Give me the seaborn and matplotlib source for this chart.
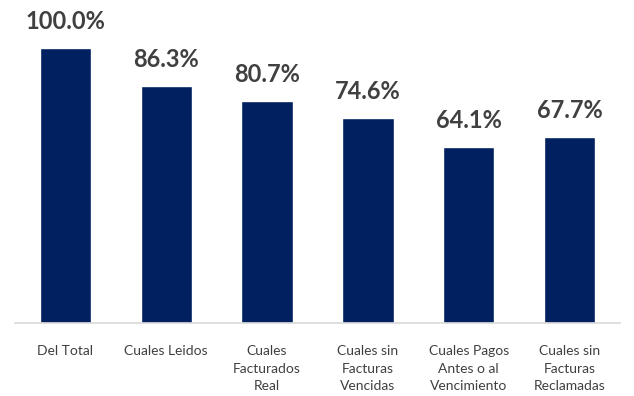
import matplotlib
matplotlib.use("Agg")
import matplotlib.pyplot as plt
import seaborn as sns
import pandas as pd

categories = ["Del Total", "Cuales Leidos", "Cuales\nFacturados\nReal",
              "Cuales sin\nFacturas\nVencidas", "Cuales Pagos\nAntes o al\nVencimiento",
              "Cuales sin\nFacturas\nReclamadas"]
values = [100.0, 86.3, 80.7, 74.6, 64.1, 67.7]

df = pd.DataFrame({"cat": categories, "pct": values})

sns.set_style("white")
plt.rcParams["font.family"] = ["Lato", "DejaVu Sans"]

fig = plt.figure(figsize=(6.34, 3.96), dpi=100)
ax = fig.add_axes([15 / 634, 73 / 396, 605 / 634, 323 / 396])

sns.barplot(data=df, x="cat", y="pct", color="#002060", saturation=1,
            width=0.51, ax=ax)

for i, v in enumerate(values):
    ax.text(i, v + 5.5, f"{v:.1f}%", ha="center", va="bottom",
            fontsize=17, fontweight="bold", color="#404040")

ax.set_ylim(0, 117.5)
ax.set_xlim(-0.5, len(values) - 0.5)
ax.set_xlabel("")
ax.set_ylabel("")
ax.set_yticks([])
ax.tick_params(axis="x", length=0, pad=16, labelsize=10, labelcolor="#404040")
for lbl in ax.get_xticklabels():
    lbl.set_linespacing(1.55)
    lbl.set_verticalalignment("top")
for s in ["top", "left", "right"]:
    ax.spines[s].set_visible(False)
ax.spines["bottom"].set_color("#D9D9D9")
ax.spines["bottom"].set_linewidth(1.2)

fig.savefig("out.png", dpi=100)
